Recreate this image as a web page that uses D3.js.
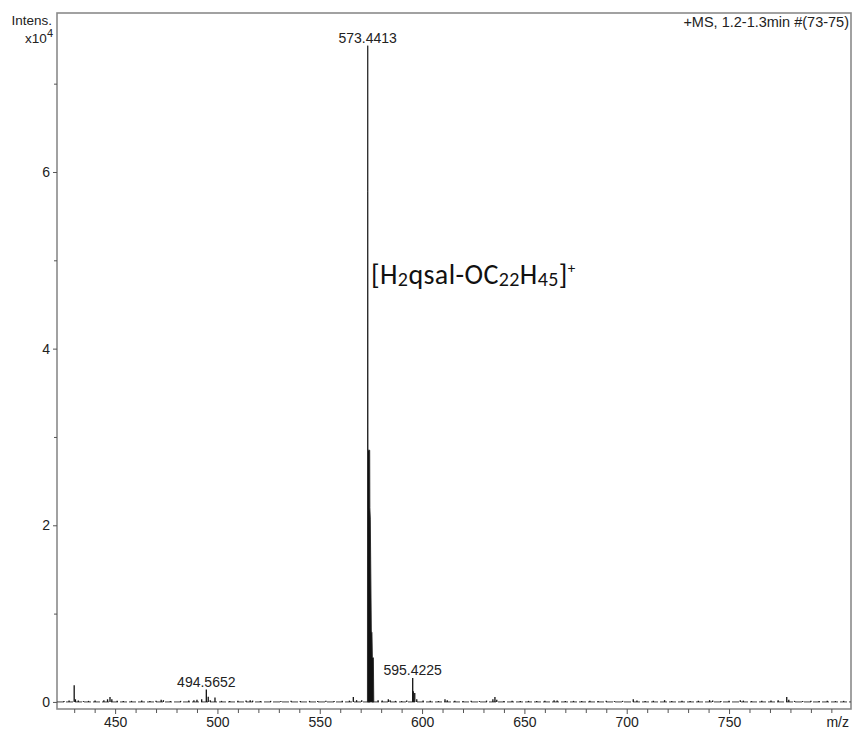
<!DOCTYPE html>
<html>
<head>
<meta charset="utf-8">
<script src="https://cdn.jsdelivr.net/npm/d3@7"></script>
<style>
  body { margin: 0; background: #fff; }
  text { font-family: "Liberation Sans", Arial, sans-serif; fill: #222; }
</style>
</head>
<body>
<svg id="chart" width="854" height="731"></svg>
<script>
// Intensities are in units of 1e4 counts.
// Profile of the base peak and its isotope envelope [m/z, intensity]
const mainProfile = [
  [573.30, 0.00], [573.40, 5.78], [573.44, 7.43], [573.48, 5.78], [573.56, 2.85],
  [574.40, 2.85], [574.48, 2.20], [574.70, 2.07], [575.20, 0.79], [575.50, 0.79],
  [575.70, 0.50], [576.20, 0.50], [576.40, 0.00]
];

// Smaller peaks and baseline noise [m/z, intensity]
const minorPeaks = [
  [425.0, 0.01], [427.5, 0.015], [430.0, 0.19], [430.6, 0.03], [432.0, 0.015], [434.5, 0.01],
  [437.0, 0.012], [440.2, 0.015], [444.5, 0.02], [446.3, 0.03], [447.5, 0.055], [448.4, 0.03],
  [451.0, 0.012], [454.0, 0.01], [458.0, 0.012], [463.0, 0.015], [467.0, 0.01], [470.0, 0.012],
  [472.5, 0.025], [473.6, 0.02], [477.0, 0.01], [482.0, 0.012], [486.0, 0.015], [488.5, 0.02],
  [490.0, 0.025], [492.3, 0.03], [494.57, 0.14], [495.5, 0.06], [496.5, 0.02], [498.8, 0.05],
  [502.0, 0.012], [506.0, 0.01], [510.0, 0.012], [514.0, 0.015], [516.0, 0.02], [517.2, 0.015],
  [521.0, 0.01], [526.0, 0.012], [531.0, 0.01], [536.0, 0.012], [540.5, 0.01], [545.0, 0.012],
  [549.0, 0.01], [553.0, 0.012], [557.0, 0.01], [561.0, 0.012], [564.5, 0.015], [566.4, 0.055],
  [568.0, 0.02], [570.5, 0.02], [578.5, 0.02], [580.5, 0.015], [583.5, 0.03], [584.4, 0.02],
  [587.0, 0.012], [590.0, 0.01], [592.5, 0.015], [595.42, 0.27], [595.7, 0.12], [596.42, 0.10],
  [597.4, 0.03], [600.5, 0.015], [604.0, 0.012], [608.0, 0.01], [611.2, 0.03], [612.3, 0.02],
  [616.0, 0.012], [620.0, 0.01], [624.0, 0.012], [628.0, 0.01], [631.5, 0.015], [634.6, 0.03],
  [635.6, 0.055], [636.5, 0.025], [640.0, 0.01], [644.0, 0.012], [648.0, 0.01], [652.0, 0.012],
  [656.0, 0.01], [660.0, 0.012], [664.5, 0.02], [666.0, 0.015], [670.0, 0.01], [674.0, 0.012],
  [678.0, 0.01], [682.0, 0.012], [686.0, 0.01], [690.0, 0.012], [694.0, 0.01], [698.0, 0.012],
  [703.2, 0.03], [705.0, 0.015], [709.0, 0.01], [713.0, 0.012], [718.5, 0.02], [722.0, 0.01],
  [727.0, 0.012], [731.0, 0.01], [735.0, 0.012], [740.5, 0.02], [742.0, 0.015], [746.0, 0.01],
  [750.0, 0.012], [755.5, 0.02], [757.0, 0.015], [761.0, 0.01], [766.0, 0.012], [770.5, 0.015],
  [774.0, 0.02], [778.2, 0.055], [779.2, 0.025], [782.0, 0.012], [786.0, 0.01], [790.0, 0.012],
  [794.0, 0.01], [798.0, 0.012], [802.0, 0.01], [806.0, 0.012]
];

// Annotated peaks [m/z, intensity, label]
const labelledPeaks = [
  [573.4413, 7.43, "573.4413"],
  [494.5652, 0.14, "494.5652"],
  [595.4225, 0.27, "595.4225"]
];

const xTicks = [450, 500, 550, 600, 650, 700, 750];
const xMinorTicks = [430, 440, 460, 470, 480, 490, 510, 520, 530, 540, 560, 570, 580, 590,
  610, 620, 630, 640, 660, 670, 680, 690, 710, 720, 730, 740, 760, 770, 780, 790, 800];
const yTicks = [0, 2, 4, 6];
const yMinorTicks = [1, 3, 5, 7];

const svg = d3.select("#chart");
const plotL = 57, plotR = 851, plotT = 13, plotB = 709;

const x = d3.scaleLinear().domain([421.6, 809.6]).range([plotL, plotR]);
const y = d3.scaleLinear().domain([-0.08, 7.8]).range([plotB, plotT]);

// Plot frame
svg.append("rect")
  .attr("x", plotL).attr("y", plotT)
  .attr("width", plotR - plotL).attr("height", plotB - plotT)
  .attr("fill", "none").attr("stroke", "#8a8a8a").attr("stroke-width", 1.6);

// Baseline of the trace
svg.append("line")
  .attr("x1", x(421.6)).attr("x2", x(809.6))
  .attr("y1", y(0)).attr("y2", y(0))
  .attr("stroke", "#444").attr("stroke-width", 1)
  .attr("stroke-dasharray", "7 2");

// Small peaks as sticks
svg.append("g").selectAll("line")
  .data(minorPeaks)
  .join("line")
  .attr("x1", d => x(d[0])).attr("x2", d => x(d[0]))
  .attr("y1", y(0)).attr("y2", d => y(d[1]))
  .attr("stroke", "#111")
  .attr("stroke-width", 1.3);

// Base peak drawn as a filled profile
const area = d3.area()
  .x(d => x(d[0]))
  .y0(y(0))
  .y1(d => y(d[1]));
svg.append("path")
  .datum(mainProfile)
  .attr("d", area)
  .attr("fill", "#111")
  .attr("stroke", "#222")
  .attr("stroke-width", 0.9)
  .attr("stroke-linejoin", "round");

// X axis: labelled and minor ticks
const xAxis = svg.append("g")
  .attr("transform", `translate(0,${plotB})`)
  .call(d3.axisBottom(x).tickValues(xTicks).tickSize(5).tickPadding(3));
svg.append("g")
  .attr("transform", `translate(0,${plotB})`)
  .call(d3.axisBottom(x).tickValues(xMinorTicks).tickSize(4).tickFormat(""))
  .call(g => g.select(".domain").remove())
  .selectAll("line").attr("stroke", "#555");
xAxis.select(".domain").remove();
xAxis.selectAll("line").attr("stroke", "#555");
xAxis.selectAll("text")
  .attr("font-size", 14)
  .attr("font-family", "Liberation Sans, Arial, sans-serif")
  .attr("fill", "#222");

// Y axis: labelled and minor ticks
const yAxis = svg.append("g")
  .attr("transform", `translate(${plotL},0)`)
  .call(d3.axisLeft(y).tickValues(yTicks).tickSize(4).tickPadding(3).tickFormat(d3.format("d")));
svg.append("g")
  .attr("transform", `translate(${plotL},0)`)
  .call(d3.axisLeft(y).tickValues(yMinorTicks).tickSize(3).tickFormat(""))
  .call(g => g.select(".domain").remove())
  .selectAll("line").attr("stroke", "#555");
yAxis.select(".domain").remove();
yAxis.selectAll("line").attr("stroke", "#555");
yAxis.selectAll("text")
  .attr("font-size", 14)
  .attr("font-family", "Liberation Sans, Arial, sans-serif")
  .attr("fill", "#222");

// Axis titles
svg.append("text").attr("x", 52).attr("y", 25)
  .attr("text-anchor", "end").attr("font-size", 13.5).text("Intens.");
const yUnit = svg.append("text").attr("x", 53).attr("y", 43)
  .attr("text-anchor", "end").attr("font-size", 13.5);
yUnit.append("tspan").text("x10");
yUnit.append("tspan").attr("dy", -6).attr("font-size", 11).text("4");

svg.append("text").attr("x", 849).attr("y", 727)
  .attr("text-anchor", "end").attr("font-size", 14).text("m/z");

svg.append("text").attr("x", 849).attr("y", 27)
  .attr("text-anchor", "end").attr("font-size", 14.5).text("+MS, 1.2-1.3min #(73-75)");

// Peak labels
svg.append("g").selectAll("text")
  .data(labelledPeaks)
  .join("text")
  .attr("x", d => x(d[0]))
  .attr("y", d => y(d[1]) - 3)
  .attr("text-anchor", "middle")
  .attr("font-size", 14)
  .text(d => d[2]);

// Ion assignment of the base peak
const ion = svg.append("text")
  .attr("x", 371).attr("y", 284)
  .attr("font-size", 28)
  .attr("letter-spacing", 0.4)
  .style("font-family", "Carlito, Lato, 'Open Sans', sans-serif")
  .style("fill", "#111");
ion.append("tspan").text("[H");
ion.append("tspan").attr("font-size", 20).attr("dy", 2).text("2");
ion.append("tspan").attr("dy", -2).text("qsal-OC");
ion.append("tspan").attr("font-size", 20).attr("dy", 2).text("22");
ion.append("tspan").attr("dy", -2).text("H");
ion.append("tspan").attr("font-size", 20).attr("dy", 2).text("45");
ion.append("tspan").attr("dy", -2).text("]");
ion.append("tspan").attr("font-size", 15).attr("dy", -11).text("+");
</script>
</body>
</html>
